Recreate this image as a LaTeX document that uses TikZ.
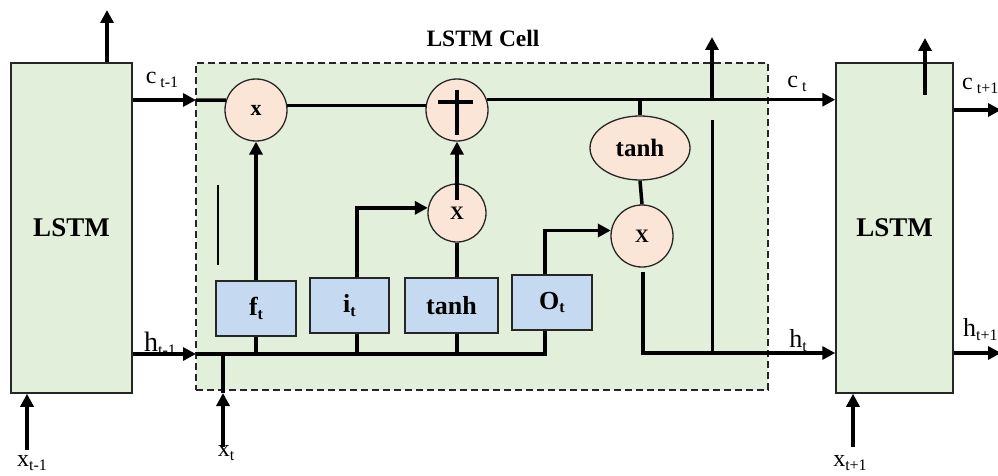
\documentclass[tikz,border=0pt]{standalone}
\usepackage{fontspec}
\setmainfont{Liberation Serif}
\usetikzlibrary{arrows.meta,shapes.geometric,calc}
\definecolor{cellgreen}{HTML}{E2EFDA}
\definecolor{peach}{HTML}{FBE5D6}
\definecolor{gateblue}{HTML}{C5D9F1}
\newcommand{\fsz}[1]{\fontsize{#1}{#1}\selectfont}
\newcommand{\lsub}[1]{\raisebox{-0.15em}{\fsz{16}#1}}
\begin{document}
\begin{tikzpicture}[x=1pt,y=-1pt,
  lstmbox/.style={draw=black!85,line width=1.5pt,fill=cellgreen,inner sep=0pt,font=\bfseries\fsz{27}},
  gatebox/.style={draw=black!85,line width=1.5pt,fill=gateblue,inner sep=0pt,minimum height=55pt,font=\bfseries\fsz{26}},
  opcirc/.style={circle,draw=black!85,line width=1.3pt,fill=peach,inner sep=0pt,font=\bfseries\fsz{19}},
  flow/.style={line width=3.5pt},
  arr/.style={line width=3.5pt,-{Triangle[length=13pt,width=13pt]}},
  lbl/.style={inner sep=0pt,font=\fsz{24}}]
\useasboundingbox (0,0) rectangle (998,476);
\clip (0,0) rectangle (998,476);

% big boxes
\node[lstmbox,minimum width=121pt,minimum height=330pt] (L1) at (71.5,228) {LSTM};
\node[lstmbox,minimum width=117pt,minimum height=330pt] (L2) at (894.5,228) {LSTM};
\node[draw=black!85,dash pattern=on 7pt off 4pt,line width=1.5pt,fill=cellgreen,
      minimum width=572pt,minimum height=327pt,inner sep=0pt] (cell) at (482,226.5) {};
\node[inner sep=0pt,font=\bfseries\fsz{23.5}] (title) at (483,38) {LSTM Cell};

% operators
\node[opcirc,minimum size=62pt,font=\bfseries\fsz{22}] (fx) at (256,110) {x};
\node[opcirc,minimum size=62pt] (px) at (457,110) {};
\node[opcirc,minimum size=58pt] (ix) at (457,213) {X};
\node[opcirc,minimum size=62pt] (ox) at (642,236) {X};
\node[ellipse,draw=black!85,line width=1.3pt,fill=peach,minimum width=100pt,minimum height=64pt,
      inner sep=0pt,font=\bfseries\fsz{25}] (te) at (640,148) {tanh};

% gates
\node[gatebox,minimum width=80pt] (ft) at (256,308.5) {f\lsub{t}};
\node[gatebox,minimum width=79pt] (it) at (349.5,305.5) {i\lsub{t}};
\node[gatebox,minimum width=93pt] (tb) at (451.5,305.5) {tanh};
\node[gatebox,minimum width=80pt] (ot) at (552,302.5) {O\lsub{t}};

% coordinates
\coordinate (cin) at (196,100);
\coordinate (hin) at (196,354);
\coordinate (ctap) at (712,100);
\coordinate (ctup) at (712,37);
\coordinate (vtop) at (712,120);
\coordinate (vbot) at (712,353);
\coordinate (hbend) at (545,354);
\coordinate (ixout) at (457,200);
\coordinate (oxout) at (643,272);
\coordinate (xtb) at (223,447);
\coordinate (xtm) at (223,393);
\coordinate (x1b) at (27,450);
\coordinate (x3b) at (853,447);
\coordinate (L1up) at (107,10);
\coordinate (L2in) at (925,95);
\coordinate (L2up) at (925,38);
\coordinate (cright) at (1001,110);
\coordinate (hright) at (1001,353);
\coordinate (thintop) at (218,185);
\coordinate (thinbot) at (218,265);

% cell state line
\draw[arr] (L1.east |- cin) -- (cin);
\draw[flow] (cin) -- (fx.162);
\draw[flow] (fx.8) -- (px.172);
\draw[arr] (px.19) -- (L2.west |- px.19);
\draw[arr] (ctap) -- (ctup);
\draw[flow] (te.north |- ctap) -- (te.north);
\draw[flow] (te.south) -- (ox.north);

% plus sign
\draw[flow] ($(px.center)+(0,-20)$) -- ($(px.center)+(0,25)$);
\draw[flow] ($(px.center)+(-19,-8)$) -- ($(px.center)+(16,-8)$);

% hidden state bus
\draw[arr] (L1.east |- hin) -- (hin);
\draw[flow] (hin) -- (hbend) -- (hbend |- ot.south);
\draw[flow] (ft.south) -- (ft.south |- hin);
\draw[flow] (357,0 |- it.south) -- (357,0 |- hin);
\draw[flow] (457,0 |- tb.south) -- (457,0 |- hin);

% gate outputs
\draw[arr] (ft.north) -- (fx.south);
\draw[arr] (357,0 |- it.north) |- (ix.170);
\draw[flow] (457,0 |- tb.north) -- (ix.south);
\draw[arr] (ixout) -- (px.south);
\draw[arr] (hbend |- ot.north) |- (ox.170);

% output
\draw[arr] (oxout) |- (L2.west |- vbot);
\draw[line width=3pt] (vtop) -- (vbot);
\draw[line width=1.5pt] (thintop) -- (thinbot);

% inputs
\draw[arr] (xtb) -- (xtm);
\draw[flow] (xtm) -- (xtm |- hin);
\draw[arr] (x1b) -- (x1b |- L1.south);
\draw[arr] (x3b) -- (x3b |- L2.south);
\draw[arr] (L1.north -| L1up) -- (L1up);
\draw[arr] (L2in) -- (L2up);
\draw[arr] (L2.east |- cright) -- (cright);
\draw[arr] (L2.east |- hright) -- (hright);

% labels
\node[lbl] (lc1) at (162,80) {c\,\lsub{t-1}};
\node[lbl,font=\fsz{28}] (lh1) at (160,344) {h\lsub{t-1}};
\node[lbl] (lc2) at (797,84) {c\,\lsub{t}};
\node[lbl,font=\fsz{26}] (lh2) at (798,341) {h\lsub{t}};
\node[lbl,anchor=west] (lc3) at (962,86) {c\,\lsub{t+1}};
\node[lbl,font=\fsz{26},anchor=west] (lh3) at (963,330) {h\lsub{t+1}};
\node[lbl,anchor=west] (lx1) at (17,463) {x\lsub{t-1}};
\node[lbl] (lx2) at (226,453) {x\lsub{t}};
\node[lbl] (lx3) at (850,463) {x\lsub{t+1}};
\end{tikzpicture}
\end{document}
